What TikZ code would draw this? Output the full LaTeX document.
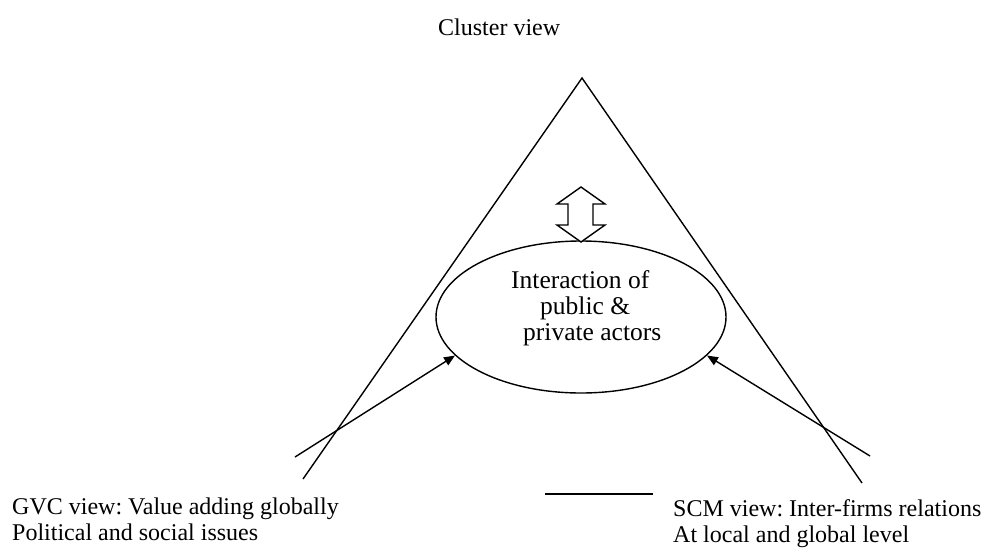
\documentclass[tikz,border=0pt]{standalone}
\usepackage{fontspec}
\setmainfont{Liberation Serif}
\frenchspacing
\usetikzlibrary{shapes.geometric,arrows.meta}
\begin{document}
\begin{tikzpicture}[x=1pt,y=-1pt,
  ln/.style={line width=1.4pt},
  lbl/.style={inner sep=0pt,anchor=base west,font=\fontsize{24}{26}\selectfont},
  ilbl/.style={inner sep=0pt,anchor=base west,font=\fontsize{25.5}{27}\selectfont},
  conn/.style={ln,-{Triangle[length=11pt,width=9pt]}}]
\useasboundingbox[fill=white] (0,0) rectangle (982,547);
% triangle sides
\coordinate (apex) at (582,78);
\coordinate (lbot) at (303,479);
\coordinate (rbot) at (862,483);
\draw[ln] (lbot) -- (apex) -- (rbot);
% ellipse
\node[ellipse,draw,ln,minimum width=290pt,minimum height=152pt,inner sep=0pt] (ell) at (581,317) {};
\node[ilbl] (t1) at (511,288) {Interaction of};
\node[ilbl] (t2) at (540,314) {public \&};
\node[ilbl] (t3) at (523,340) {private actors};
% double arrow
\draw[ln,line join=miter,fill=white] (581,187) -- (605,204) -- (593,204) -- (593,225) -- (605,225) -- (581,242) -- (557,225) -- (568,225) -- (568,204) -- (557,204) -- cycle;
% arrows
\coordinate (ltail) at (295,457);
\coordinate (rtail) at (870,456);
\draw[conn] (ltail) -- (ell.197);
\draw[conn] (rtail) -- (ell.343);
% short line
\coordinate (s1) at (545,494);
\coordinate (s2) at (653,494);
\draw[ln] (s1) -- (s2);
% labels
\node[lbl] (cl) at (438,35) {Cluster view};
\node[lbl] (g1) at (12,514) {GVC view: Value adding globally};
\node[lbl] (g2) at (12,540) {Political and social issues};
\node[lbl] (s1t) at (673,516) {SCM view: Inter-firms relations};
\node[lbl] (s2t) at (673,542) {At local and global level};
\end{tikzpicture}
\end{document}
